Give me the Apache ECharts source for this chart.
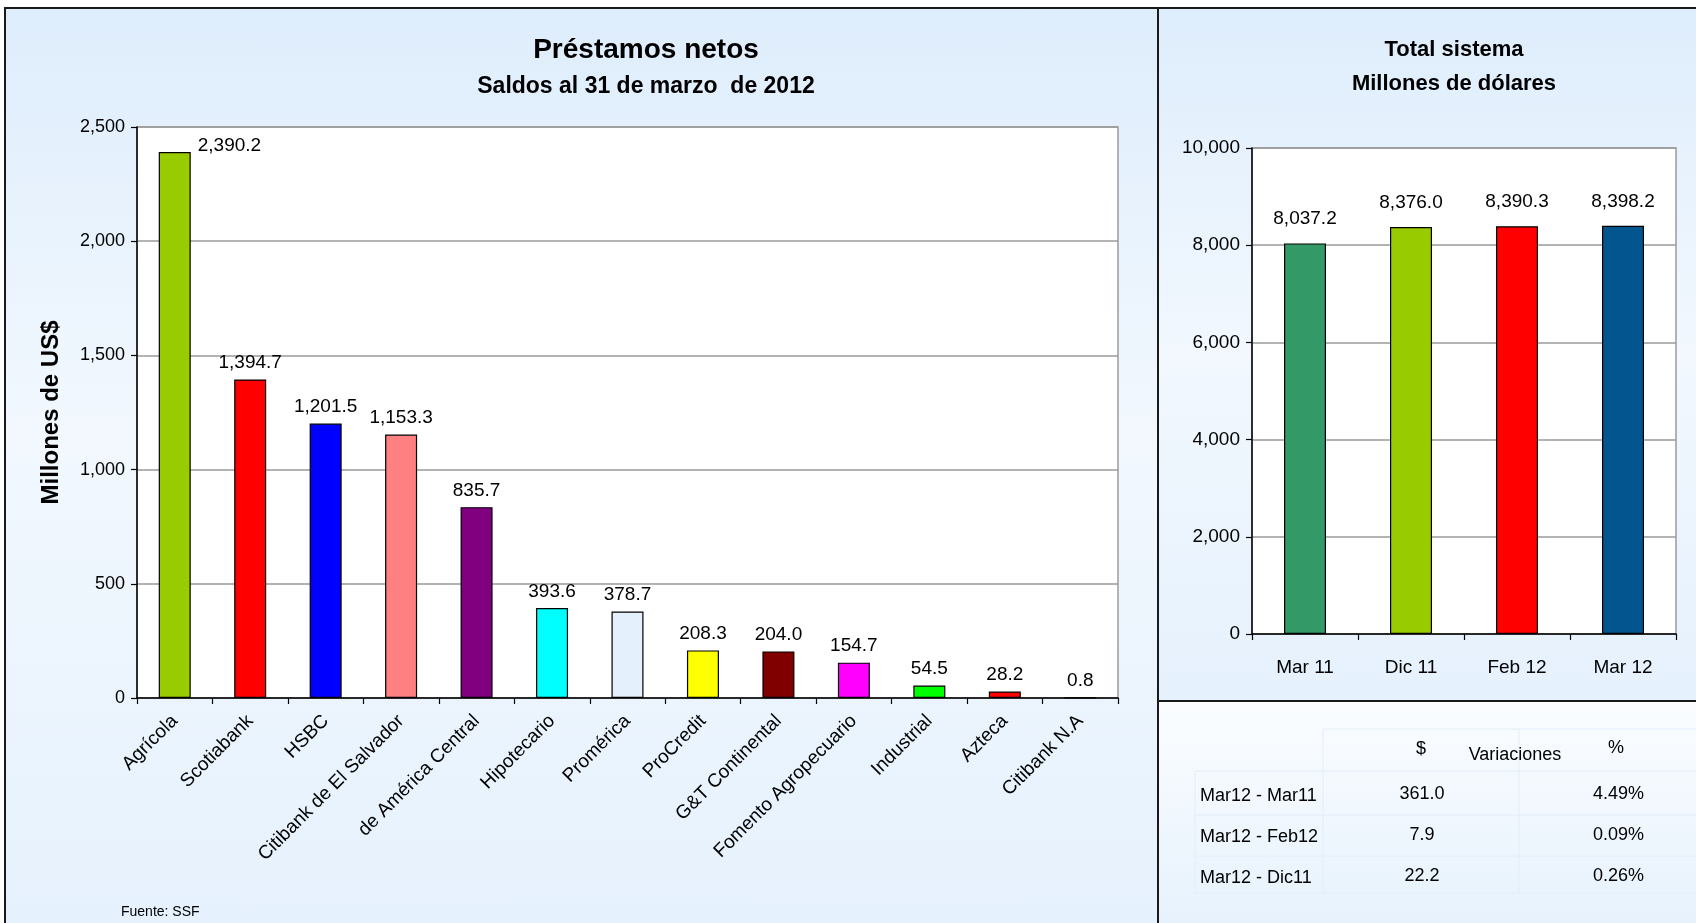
<!DOCTYPE html>
<html><head><meta charset="utf-8">
<script src="https://cdn.jsdelivr.net/npm/echarts@6/dist/echarts.min.js"></script>
<style>
html,body{margin:0;padding:0;background:#fff;width:1696px;height:923px;overflow:hidden;}
.panel{position:absolute;box-sizing:border-box;}
#chart{position:absolute;left:0;top:0;width:1696px;height:923px;}
</style></head><body>
<div class="panel" style="left:4px;top:7px;width:1155px;height:940px;border:2px solid #1a1a1a;background:linear-gradient(180deg,#deedfc 0%,#f2f8fe 45%,#e5f1fd 100%);"></div>
<div class="panel" style="left:1157px;top:7px;width:600px;height:695px;border:2px solid #1a1a1a;background:linear-gradient(180deg,#deedfc 0%,#f2f8fe 50%,#e5f1fd 100%);"></div>
<div class="panel" style="left:1157px;top:700px;width:600px;height:260px;border:2px solid #1a1a1a;background:linear-gradient(180deg,#fbfdff 0%,#e3f0fc 100%);"></div>
<div id="chart"></div>
<script>
// ---- data ----
const categories = ['Agrícola','Scotiabank','HSBC','Citibank de El Salvador','de América Central','Hipotecario','Promérica','ProCredit','G&T Continental','Fomento Agropecuario','Industrial','Azteca','Citibank N.A'];
const loanValues = [2390.2,1394.7,1201.5,1153.3,835.7,393.6,378.7,208.3,204.0,154.7,54.5,28.2,0.8];
const barColors = ['#99cc00','#ff0000','#0000ff','#ff8080','#800080','#00ffff','#e4f1fd','#ffff00','#800000','#ff00ff','#00ff00','#ff0000','#3366ff'];
const periods = ['Mar 11','Dic 11','Feb 12','Mar 12'];
const totalValues = [8037.2,8376.0,8390.3,8398.2];
const totalColors = ['#339966','#99cc00','#ff0000','#03558f'];
const variationRows = ['Mar12 - Mar11','Mar12 - Feb12','Mar12 - Dic11'];
const variationAmounts = [361.0,7.9,22.2];
const variationPercents = [4.49,0.09,0.26];
const tableHeaders = ['$','Variaciones','%'];

const FONT = "'Liberation Sans', Arial, sans-serif";
const fmt1 = v => v.toLocaleString('en-US',{minimumFractionDigits:1,maximumFractionDigits:1});
const fmtInt = v => v.toLocaleString('en-US');

const chart = echarts.init(document.getElementById('chart'), null, {renderer:'canvas'});

function txt(x, y, text, font, align, valign){
  return {type:'text', x:x, y:y, z:10, style:{text:text, font:font, fill:'#000', textAlign:align||'center', textVerticalAlign:valign||'middle'}};
}
const graphics = [
  txt(646, 50, 'Préstamos netos', 'bold 28px ' + FONT),
  txt(646, 87, 'Saldos al 31 de marzo  de 2012', 'bold 23px ' + FONT),
  txt(121, 912, 'Fuente: SSF', '14px ' + FONT, 'left'),
  txt(1454, 50, 'Total sistema', 'bold 22px ' + FONT),
  txt(1454, 84, 'Millones de dólares', 'bold 22px ' + FONT)
];
// faint table grid
const faint = '#e2eefa';
[[1323,729,1696,729],[1195,771,1696,771],[1195,815,1696,815],[1195,856,1696,856],[1195,893,1696,893],
 [1195,771,1195,893],[1323,729,1323,893],[1519,729,1519,893]].forEach(s=>{
  graphics.push({type:'line', z:5, shape:{x1:s[0],y1:s[1],x2:s[2],y2:s[3]}, style:{stroke:faint, lineWidth:1}});
});
graphics.push(txt(1421, 749, tableHeaders[0], '18px ' + FONT));
graphics.push(txt(1515, 755, tableHeaders[1], '18px ' + FONT));
graphics.push(txt(1616, 748, tableHeaders[2], '18px ' + FONT));
const rowY = [794, 835, 876];
variationRows.forEach((r,i)=>{
  graphics.push(txt(1200, rowY[i]+2, r, '18px ' + FONT, 'left'));
  graphics.push(txt(1422, rowY[i], fmt1(variationAmounts[i]), '18px ' + FONT));
  graphics.push(txt(1644, rowY[i], variationPercents[i].toFixed(2) + '%', '18px ' + FONT, 'right'));
});

const axisBlack = {show:true, lineStyle:{color:'#000', width:1.5}};
const tickBlack = {show:true, length:6, lineStyle:{color:'#000', width:1.2}};

const option = {
  animation:false,
  backgroundColor:'transparent',
  textStyle:{fontFamily:FONT},
  graphic: graphics,
  grid:[
    {left:137, top:127, width:981, height:571, show:true, backgroundColor:'#fff', borderColor:'#9a9a9a', borderWidth:1.5, containLabel:false},
    {left:1252, top:148, width:424, height:486, show:true, backgroundColor:'#fff', borderColor:'#9a9a9a', borderWidth:1.5, containLabel:false}
  ],
  xAxis:[
    {type:'category', gridIndex:0, data:categories, axisLine:axisBlack, axisTick:tickBlack,
     axisLabel:{interval:0, rotate:45, margin:20, fontSize:19, color:'#000', fontFamily:FONT}},
    {type:'category', gridIndex:1, data:periods, axisLine:axisBlack, axisTick:tickBlack,
     axisLabel:{interval:0, margin:24, fontSize:19, color:'#000', fontFamily:FONT}}
  ],
  yAxis:[
    {type:'value', gridIndex:0, min:0, max:2500, interval:500, axisLine:axisBlack, axisTick:tickBlack,
     splitLine:{show:true, lineStyle:{color:'#9a9a9a', width:1.5}},
     axisLabel:{margin:12, fontSize:18, color:'#000', fontFamily:FONT, formatter:fmtInt},
     name:'Millones de US$', nameLocation:'middle', nameGap:74,
     nameTextStyle:{fontSize:24, fontWeight:'bold', color:'#000', fontFamily:FONT}},
    {type:'value', gridIndex:1, min:0, max:10000, interval:2000, axisLine:axisBlack, axisTick:tickBlack,
     splitLine:{show:true, lineStyle:{color:'#9a9a9a', width:1.5}},
     axisLabel:{margin:12, fontSize:19, color:'#000', fontFamily:FONT, formatter:fmtInt}}
  ],
  series:[
    {type:'bar', xAxisIndex:0, yAxisIndex:0, barWidth:32,
     data: loanValues.map((v,i)=>{
       const item = {value:v, itemStyle:{color:barColors[i], borderColor:'#000', borderWidth:1.2}};
       if(i===0){ item.label = {position:[39,-6], align:'left', verticalAlign:'middle'}; }
       return item;
     }),
     label:{show:true, position:'top', distance:7, fontSize:19, color:'#000', fontFamily:FONT,
       formatter:p=>fmt1(p.value)}},
    {type:'bar', xAxisIndex:1, yAxisIndex:1, barWidth:42,
     data: totalValues.map((v,i)=>({value:v, itemStyle:{color:totalColors[i], borderColor:'#000', borderWidth:1.2}})),
     label:{show:true, position:'top', distance:15, fontSize:19, color:'#000', fontFamily:FONT,
       formatter:p=>fmt1(p.value)}}
  ]
};
chart.setOption(option);
</script>
</body></html>
